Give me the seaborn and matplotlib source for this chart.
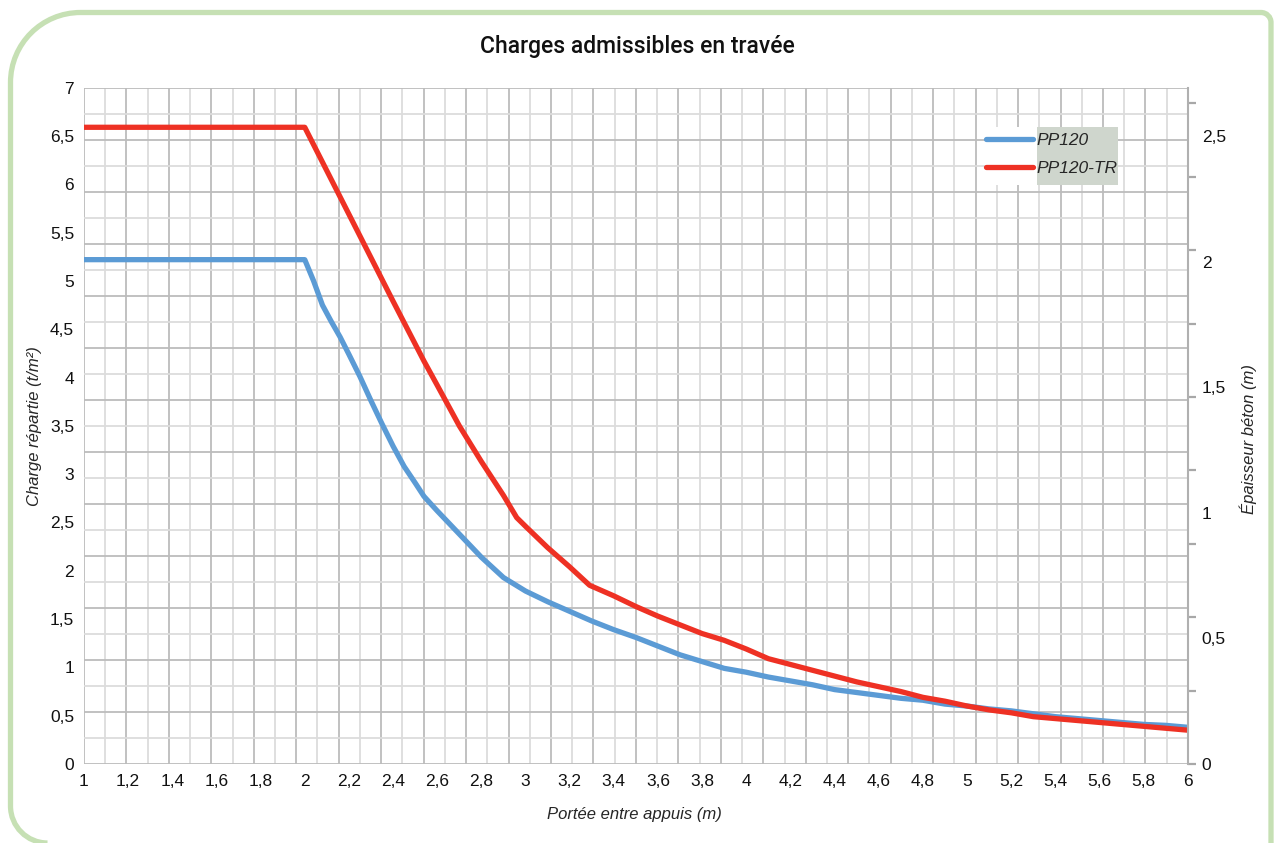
import numpy as np
import pandas as pd
import matplotlib
matplotlib.use('Agg')
import matplotlib.pyplot as plt
import matplotlib.transforms as mtransforms
from matplotlib.path import Path
from matplotlib.patches import PathPatch, Rectangle
from matplotlib.lines import Line2D
import seaborn as sns

# PP120 (courbe bleue) - portée (m) / charge répartie (t/m²)
pp120_x = [1.0, 2.0, 2.04, 2.08, 2.12, 2.16, 2.2, 2.25, 2.3, 2.35, 2.4, 2.45, 2.5, 2.54,
           2.6, 2.7, 2.8, 2.9, 3.0, 3.1, 3.2, 3.3, 3.4, 3.5, 3.6, 3.7, 3.8, 3.9, 4.0,
           4.1, 4.2, 4.3, 4.4, 4.5, 4.6, 4.7, 4.8, 4.9, 5.0, 5.1, 5.2, 5.3, 5.4, 5.5,
           5.6, 5.7, 5.8, 5.9, 6.0]
pp120_y = [5.22, 5.22, 5.0, 4.75, 4.58, 4.42, 4.24, 4.01, 3.76, 3.52, 3.29, 3.08, 2.91, 2.77,
           2.62, 2.38, 2.14, 1.93, 1.79, 1.68, 1.58, 1.48, 1.39, 1.31, 1.22, 1.13, 1.06, 0.99, 0.95,
           0.90, 0.86, 0.82, 0.77, 0.74, 0.71, 0.68, 0.66, 0.62, 0.60, 0.57, 0.55, 0.52, 0.49, 0.47,
           0.45, 0.43, 0.41, 0.40, 0.38]

# PP120-TR (courbe rouge)
tr_x = [1.0, 2.0, 2.1, 2.2, 2.3, 2.4, 2.54, 2.6, 2.7, 2.8, 2.9, 2.96, 3.0, 3.1, 3.2, 3.29,
        3.4, 3.5, 3.6, 3.7, 3.8, 3.9, 4.0, 4.1, 4.2, 4.3, 4.4, 4.5, 4.6, 4.7, 4.8, 4.9,
        5.0, 5.1, 5.2, 5.3, 5.4, 5.5, 5.6, 5.7, 5.8, 5.9, 6.0]
tr_y = [6.59, 6.59, 6.14, 5.69, 5.24, 4.79, 4.17, 3.92, 3.50, 3.13, 2.78, 2.55, 2.46, 2.24, 2.04, 1.85,
        1.74, 1.63, 1.53, 1.44, 1.35, 1.28, 1.19, 1.09, 1.03, 0.97, 0.91, 0.85, 0.80, 0.75, 0.69, 0.65,
        0.60, 0.56, 0.53, 0.49, 0.47, 0.45, 0.43, 0.41, 0.39, 0.37, 0.35]

series_names = ['PP120', 'PP120-TR']
series_colors = ['#5b9bd5', '#ee3124']

x_labels = ['1', '1,2', '1,4', '1,6', '1,8', '2', '2,2', '2,4', '2,6', '2,8', '3', '3,2', '3,4',
            '3,6', '3,8', '4', '4,2', '4,4', '4,6', '4,8', '5', '5,2', '5,4', '5,6', '5,8', '6']
y_labels = ['0', '0,5', '1', '1,5', '2', '2,5', '3', '3,5', '4', '4,5', '5', '5,5', '6', '6,5', '7']
y2_labels = ['0', '0,5', '1', '1,5', '2', '2,5']

df = pd.concat([
    pd.DataFrame({'portee': pp120_x, 'charge': pp120_y, 'produit': series_names[0]}),
    pd.DataFrame({'portee': tr_x, 'charge': tr_y, 'produit': series_names[1]}),
])

sns.set_style('white')
plt.rcParams['font.family'] = ['Liberation Sans', 'DejaVu Sans']

fig = plt.figure(figsize=(12.78, 8.43), dpi=100)
ax = fig.add_axes([0.0657, 0.0937, 0.8638, 0.8023])

# quadrillage (indépendant des graduations, comme dans l'original)
for i, gx in enumerate(np.linspace(1, 6, 53)):
    ax.axvline(gx, color='#bcbcbc' if i % 2 == 0 else '#dcdcdc', lw=1.3, zorder=0.5)
for i, gy in enumerate(np.linspace(0, 7, 27)):
    ax.axhline(gy, color='#bcbcbc' if i % 2 == 0 else '#dcdcdc', lw=1.3, zorder=0.5)

sns.lineplot(data=df, x='portee', y='charge', hue='produit', hue_order=series_names,
             palette=dict(zip(series_names, series_colors)), estimator=None, sort=False,
             linewidth=3.8, legend=False, ax=ax, zorder=3)

ax.set_xlim(1, 6)
ax.set_ylim(0, 7)
ax.set_xticks(np.linspace(1, 6, len(x_labels)))
ax.set_xticklabels(x_labels)
ax.set_yticks(np.linspace(0, 7, len(y_labels)))
ax.set_yticklabels(y_labels)
ax.tick_params(axis='both', length=0, labelsize=12.5, labelcolor='#111111')
ax.tick_params(axis='x', pad=7)
ax.tick_params(axis='y', pad=7)
for s in ax.spines.values():
    s.set_visible(False)

ax.set_xlabel('Portée entre appuis (m)', fontstyle='italic', fontsize=12)
ax.xaxis.set_label_coords(0.499, -0.074)
ax.xaxis.label.set_va('center')
ax.set_ylabel('Charge répartie (t/m²)', fontstyle='italic', fontsize=12)
ax.yaxis.set_label_coords(-0.0444, 0.5)
ax.yaxis.label.set_va('center')

# légende
ax.add_patch(Rectangle((0.816, 0.856), 0.047, 0.0858, transform=ax.transAxes,
                       facecolor='white', edgecolor='none', zorder=2))
ax.add_patch(Rectangle((0.863, 0.856), 0.0734, 0.0858, transform=ax.transAxes,
                       facecolor='#cfd6cd', edgecolor='none', zorder=2))
handles = [Line2D([], [], color=c, lw=3.8) for c in series_colors]
ax.legend(handles, series_names, loc='upper left', bbox_to_anchor=(0.817, 0.933),
          frameon=False, prop=dict(style='italic', size=12.5), handlelength=2.7,
          handletextpad=0.22, labelspacing=0.72, borderpad=0, borderaxespad=0)

# axe secondaire
ax2 = ax.twinx()
ax2.set_ylim(0, 2.692)
ax2.set_yticks(np.linspace(0, 2.5, len(y2_labels)))
ax2.set_yticklabels(y2_labels)
ax2.set_yticks(np.arange(10) * 0.2922, minor=True)
ax2.yaxis.remove_overlapping_locs = False
ax2.tick_params(axis='y', which='major', length=0, pad=10, labelsize=12.5, labelcolor='#111111')
ax2.tick_params(axis='y', which='minor', length=6, width=1.6, color='#a8a8a8')
for name, s in ax2.spines.items():
    s.set_visible(name == 'right')
ax2.spines['right'].set_color('#b0b0b0')
ax2.spines['right'].set_linewidth(1.5)
ax2.set_ylabel('Épaisseur béton (m)', fontstyle='italic', fontsize=12)
ax2.yaxis.set_label_coords(1.0543, 0.48)
ax2.yaxis.label.set_va('center')

fig.text(637 / 1278, 1 - 47 / 843, 'Charges admissibles en travée', ha='center', va='center',
         fontsize=16.5, fontweight='medium', family=['Roboto', 'Liberation Sans'], color='#111111')

# cadre vert arrondi
k = 0.5523
r1, r2, r3 = 70, 10, 37
L, T, R, B = 10.5, 12.5, 1271, 843
verts = [(L + r3, B), (L + r3 - r3 * k, B), (L, B - r3 + r3 * k), (L, B - r3),
         (L, T + r1),
         (L, T + r1 - r1 * k), (L + r1 - r1 * k, T), (L + r1, T),
         (R - r2, T),
         (R - r2 + r2 * k, T), (R, T + r2 - r2 * k), (R, T + r2),
         (R, B + 5)]
codes = [Path.MOVETO, Path.CURVE4, Path.CURVE4, Path.CURVE4, Path.LINETO,
         Path.CURVE4, Path.CURVE4, Path.CURVE4, Path.LINETO,
         Path.CURVE4, Path.CURVE4, Path.CURVE4, Path.LINETO]
px_tr = mtransforms.Affine2D().scale(1 / 1278, -1 / 843).translate(0, 1) + fig.transFigure
fig.add_artist(PathPatch(Path(verts, codes), facecolor='none', edgecolor='#c6e0b4', lw=3.8,
                         transform=px_tr))

fig.savefig('out.png', dpi=100)
